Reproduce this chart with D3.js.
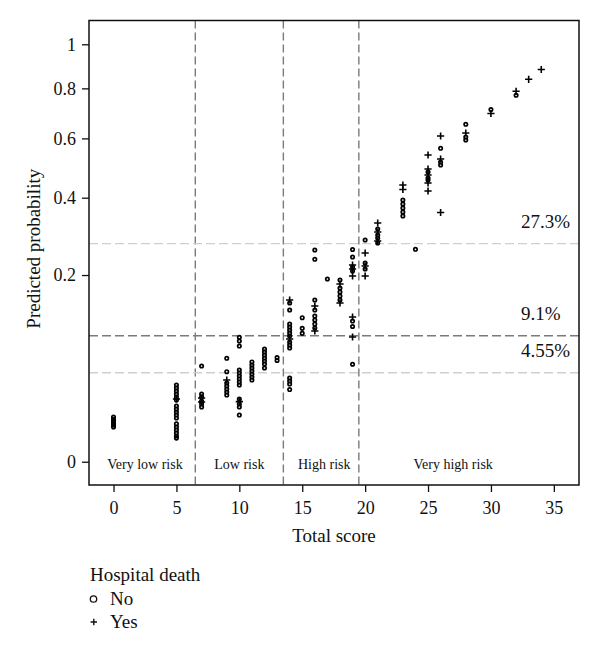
<!DOCTYPE html>
<html><head><meta charset="utf-8">
<script src="https://cdn.jsdelivr.net/npm/d3@7"></script>
<style>
html,body{margin:0;padding:0;background:#fff;}
svg text{font-family:"Liberation Serif","Times New Roman",serif;fill:#111;}
</style></head>
<body>
<svg id="chart" width="600" height="655"></svg>
<script>
// ---- data ----
const hospitalDeathNo = [
  [0,.0115],[0,.0105],[0,.0095],[0,.0086],[0,.0077],[0,.0069],
  [5,.0338],[5,.0312],[5,.0287],[5,.0263],[5,.0240],[5,.0219],[5,.0178],[5,.0159],[5,.0142],[5,.0125],[5,.0110],[5,.0082],[5,.0069],[5,.0058],[5,.0047],[5,.0038],[5,.0032],
  [7,.0526],[7,.0263],[7,.0240],[7,.0211],[7,.0191],[7,.0172],
  [9,.0614],[9,.0465],[9,.0355],[9,.0329],[9,.0303],[9,.0279],[9,.0255],
  [10,.0888],[10,.0836],[10,.0768],[10,.0483],[10,.0452],[10,.0422],[10,.0393],[10,.0365],[10,.0338],[10,.0226],[10,.0191],[10,.0172],[10,.0125],
  [11,.0571],[11,.0537],[11,.0504],[11,.0472],[11,.0441],[11,.0412],[11,.0383],
  [12,.0729],[12,.0691],[12,.0653],[12,.0617],[12,.0582],[12,.0548],[12,.0504],
  [13,.0623],[13,.0588],
  [14,.1446],[14,.1321],[14,.1088],[14,.1041],[14,.0996],[14,.0951],[14,.0907],[14,.0822],[14,.0782],[14,.0742],[14,.0402],[14,.0374],[14,.0347],[14,.0299],
  [15,.1190],[15,.1021],[15,.0946],
  [16,.2572],[16,.2351],[16,.1501],[16,.1321],[16,.1218],[16,.1153],[16,.1088],[16,.1026],
  [17,.1916],
  [18,.1895],[18,.1732],[18,.1653],[18,.1576],[18,.1501],
  [19,.2585],[19,.2405],[19,.2176],[19,.2087],[19,.1136],[19,.1049],[19,.0545],
  [20,.2821],[20,.2266],[20,.2131],
  [21,.3108],[21,.2950],[21,.2872],[21,.2745],
  [23,.3931],[23,.3812],[23,.3694],[23,.3579],[23,.3465],
  [24,.2590],
  [25,.4817],[25,.4620],[25,.4555],
  [26,.5638],[26,.5156],[26,.5053],
  [28,.6534],[28,.6052],[28,.5940],
  [30,.7120],
  [32,.7706]
];
const hospitalDeathYes = [
  [5,.0226],
  [7,.0233],[7,.0205],
  [9,.0383],
  [10,.0207],
  [14,.1501],[14,.0864],
  [16,.1391],[16,.0981],
  [18,.1812],[18,.1446],
  [19,.2221],[19,.2131],[19,.1979],[19,.1202],[19,.0893],
  [20,.25],[20,.2198],[20,.1979],
  [21,.3270],[21,.3028],[21,.2796],
  [23,.4395],[23,.4253],
  [25,.5399],[25,.4917],[25,.4718],[25,.4458],[25,.4206],
  [26,.6089],[26,.5259],[26,.3564],
  [28,.6201],
  [30,.6959],
  [32,.7875],
  [33,.8393],
  [34,.8829]
];
const xTicks = [0,5,10,15,20,25,30,35];
const yTicks = [0,0.2,0.4,0.6,0.8,1];
const yTickLabels = ["0","0.2","0.4","0.6","0.8","1"];
const riskCutoffs = [6.5,13.5,19.5];
const riskLabels = ["Very low risk","Low risk","High risk","Very high risk"];
const riskLabelPos = [2.5,10,16.75,27];
const probThresholds = [0.273,0.091,0.0455];
const probThresholdLabels = ["27.3%","9.1%","4.55%"];
const legendTitle = "Hospital death";
const legendLabels = ["No","Yes"];

// ---- layout ----
const L = 89, R = 579, T = 20.5, B = 485;
const svg = d3.select("#chart");
const x = d3.scaleLinear().domain([-1.95, 37]).range([L, R]);
const y = d3.scaleSqrt().domain([-0.00311, 1.1172]).range([B, T]);

const plot = svg.append("g");

// vertical dashed risk cutoffs
plot.selectAll("line.vcut").data(riskCutoffs).join("line")
  .attr("x1", d => x(d)).attr("x2", d => x(d))
  .attr("y1", T).attr("y2", B)
  .attr("stroke", "#7a7a7a").attr("stroke-width", 1.4).attr("stroke-dasharray", "8,4");

// horizontal threshold lines
plot.selectAll("line.hcut").data(probThresholds).join("line")
  .attr("x1", L).attr("x2", R)
  .attr("y1", d => y(d)).attr("y2", d => y(d))
  .attr("stroke", (d,i) => i === 1 ? "#7a7a7a" : "#cfcfcf")
  .attr("stroke-width", 1.4).attr("stroke-dasharray", "9,4");

plot.selectAll("text.hlab").data(probThresholds).join("text")
  .attr("x", 521).attr("y", d => y(d) - 16)
  .attr("font-size", 19)
  .text((d,i) => probThresholdLabels[i]);

// region labels
plot.selectAll("text.rlab").data(riskLabels).join("text")
  .attr("x", (d,i) => x(riskLabelPos[i])).attr("y", 469)
  .attr("text-anchor", "middle").attr("font-size", 14)
  .text(d => d);

// points: No = open circles
plot.selectAll("circle.no").data(hospitalDeathNo).join("circle")
  .attr("cx", d => x(d[0])).attr("cy", d => y(d[1])).attr("r", 1.7)
  .attr("fill", "none").attr("stroke", "#000").attr("stroke-width", 1.7);

// Yes = plus
const plusPath = s => `M${-s},0H${s}M0,${-s}V${s}`;
plot.selectAll("path.yes").data(hospitalDeathYes).join("path")
  .attr("transform", d => `translate(${x(d[0])},${y(d[1])})`)
  .attr("d", plusPath(3.6))
  .attr("fill", "none").attr("stroke", "#000").attr("stroke-width", 1.6);

// frame
svg.append("rect").attr("x", L).attr("y", T).attr("width", R - L).attr("height", B - T)
  .attr("fill", "none").attr("stroke", "#111").attr("stroke-width", 1.5);

// x axis
const xAxis = svg.append("g").attr("transform", `translate(0,${B})`)
  .call(d3.axisBottom(x).tickValues(xTicks).tickSize(7).tickPadding(9).tickFormat(d3.format("d")));
xAxis.select(".domain").remove();
xAxis.selectAll("line").attr("stroke", "#111").attr("stroke-width", 1.3);
xAxis.selectAll("text").attr("font-size", 18).attr("font-family", "Liberation Serif").attr("fill", "#111");

// y axis
const yAxis = svg.append("g").attr("transform", `translate(${L},0)`)
  .call(d3.axisLeft(y).tickValues(yTicks).tickSize(7).tickPadding(6).tickFormat((d,i) => yTickLabels[i]));
yAxis.select(".domain").remove();
yAxis.selectAll("line").attr("stroke", "#111").attr("stroke-width", 1.3);
yAxis.selectAll("text").attr("font-size", 18).attr("font-family", "Liberation Serif").attr("fill", "#111");

// axis titles
svg.append("text").attr("x", (L + R) / 2).attr("y", 542)
  .attr("text-anchor", "middle").attr("font-size", 19).text("Total score");
svg.append("text").attr("transform", `translate(40,${(T + B) / 2 - 4}) rotate(-90)`)
  .attr("text-anchor", "middle").attr("font-size", 19).text("Predicted probability");

// legend
const lg = svg.append("g");
lg.append("text").attr("x", 90).attr("y", 581).attr("font-size", 19).text(legendTitle);
lg.append("circle").attr("cx", 93.5).attr("cy", 599).attr("r", 3.2)
  .attr("fill", "none").attr("stroke", "#111").attr("stroke-width", 1.3);
lg.append("path").attr("transform", "translate(93.8,622)").attr("d", plusPath(3.2))
  .attr("stroke", "#111").attr("stroke-width", 1.4);
lg.selectAll("text.ll").data(legendLabels).join("text")
  .attr("x", 110).attr("y", (d,i) => 605 + i * 23).attr("font-size", 19).text(d => d);
</script>
</body></html>
